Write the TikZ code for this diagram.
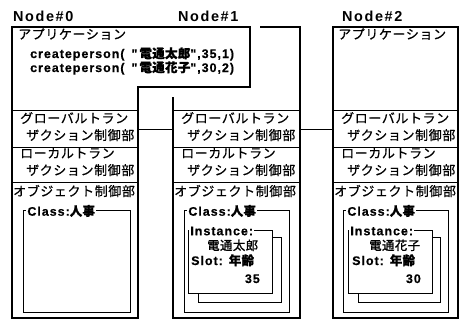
\documentclass[tikz,border=0pt]{standalone}
\usepackage{fontspec}
\setmainfont{Liberation Sans}
\newfontfamily\jpf{Noto Sans CJK JP}[LetterSpace=5,FakeBold=0.6]
\newfontfamily\jpb{Noto Sans CJK JP}[LetterSpace=3,FakeBold=1.2]
\newfontfamily\latf{Liberation Sans}[LetterSpace=8,FakeBold=0.4]
\newfontfamily\hdf{Liberation Sans}[LetterSpace=11]
\newcommand\jsz{\jpf\fontsize{13}{15}\selectfont}
\newcommand\jbz{\jpb\fontsize{12.5}{15}\selectfont}
\newcommand\lsz{\latf\bfseries\fontsize{12.5}{14}\selectfont}
\newcommand\hsz{\hdf\bfseries\fontsize{14.5}{16}\selectfont}
\tikzset{
  box/.style={draw, line width=1.3bp, inner sep=0pt, anchor=north west},
  txt/.style={anchor=base west, inner sep=0pt},
  tag/.style={anchor=west, fill=white, inner sep=1.2bp},
  ln/.style={line width=1.3bp},
}
\begin{document}
\begin{tikzpicture}[x=1bp,y=-1bp]
\useasboundingbox (0,0) rectangle (459,320);
% ---------- Node#0 ----------
\node[txt] (h0) at (13,21) {\hsz Node\#0};
\draw[ln] (138,87) -- (250,87) -- (250,27) -- (12,27) -- (12,318) -- (138,318) -- cycle;
\node[txt] (a0) at (18,39) {\jsz アプリケーション};
\node[txt] (c1) at (30,58) {\lsz createperson(\hspace{7bp}"\hspace{2bp}{\jbz 電通太郎}",35,1)};
\node[txt] (c2) at (30,72) {\lsz createperson(\hspace{7bp}"\hspace{2bp}{\jbz 電通花子}",30,2)};
\node[box, minimum width=126bp, minimum height=37bp] (g0) at (12,110) {};
\node[box, minimum width=126bp, minimum height=35bp] (l0) at (12,147) {};
\node[txt] (g0a) at (20,123) {\jsz グローバルトラン};
\node[txt] (g0b) at (26,140) {\jsz ザクション制御部};
\node[txt] (l0a) at (20,158) {\jsz ローカルトラン};
\node[txt] (l0b) at (26,175) {\jsz ザクション制御部};
\node[txt] (o0) at (13,196) {\jsz オブジェクト制御部};
\node[box, minimum width=107bp, minimum height=102bp] (k0) at (23,210) {};
\node[tag] (k0t) at (26,211) {\lsz Class:{\jbz 人事}};
% ---------- Node#1 ----------
\node[txt] (h1) at (178,21) {\hsz Node\#1};
\draw[ln] (260,27) -- (300,27) -- (300,318) -- (173,318) -- (173,97);
\node[box, minimum width=127bp, minimum height=37bp] (g1) at (173,110) {};
\node[box, minimum width=127bp, minimum height=35bp] (l1) at (173,147) {};
\node[txt] (g1a) at (181,123) {\jsz グローバルトラン};
\node[txt] (g1b) at (187,140) {\jsz ザクション制御部};
\node[txt] (l1a) at (181,158) {\jsz ローカルトラン};
\node[txt] (l1b) at (187,175) {\jsz ザクション制御部};
\node[txt] (o1) at (174,196) {\jsz オブジェクト制御部};
\node[box, minimum width=105bp, minimum height=102bp] (k1) at (184,210) {};
\node[tag] (k1t) at (187,211) {\lsz Class:{\jbz 人事}};
\node[box, minimum width=83bp, minimum height=65bp] (j1) at (198,237) {};
\node[box, fill=white, minimum width=84bp, minimum height=63bp] (i1) at (188,230) {};
\node[tag] (i1t) at (189,231) {\lsz Instance:};
\node[txt] (n1) at (207,250) {\jbz 電通太郎};
\node[txt] (s1) at (191,265) {\lsz Slot: {\jbz 年齢}};
\node[anchor=base east, inner sep=0pt] (v1) at (260,283) {\lsz 35};
% ---------- Node#2 ----------
\node[txt] (h2) at (342,21) {\hsz Node\#2};
\draw[ln] (333,27) rectangle (458,318);
\node[txt] (a2) at (338,39) {\jsz アプリケーション};
\node[box, minimum width=125bp, minimum height=37bp] (g2) at (333,110) {};
\node[box, minimum width=125bp, minimum height=35bp] (l2) at (333,147) {};
\node[txt] (g2a) at (341,123) {\jsz グローバルトラン};
\node[txt] (g2b) at (347,140) {\jsz ザクション制御部};
\node[txt] (l2a) at (341,158) {\jsz ローカルトラン};
\node[txt] (l2b) at (347,175) {\jsz ザクション制御部};
\node[txt] (o2) at (334,196) {\jsz オブジェクト制御部};
\node[box, minimum width=105bp, minimum height=102bp] (k2) at (343,210) {};
\node[tag] (k2t) at (346,211) {\lsz Class:{\jbz 人事}};
\node[box, minimum width=82bp, minimum height=65bp] (j2) at (358,237) {};
\node[box, fill=white, minimum width=84bp, minimum height=63bp] (i2) at (348,230) {};
\node[tag] (i2t) at (349,231) {\lsz Instance:};
\node[txt] (n2) at (369,250) {\jbz 電通花子};
\node[txt] (s2) at (352,265) {\lsz Slot: {\jbz 年齢}};
\node[anchor=base east, inner sep=0pt] (v2) at (421,283) {\lsz 30};
% ---------- connectors ----------
\draw[ln] (g0.east) -- (g1.west);
\draw[ln] (g1.east) -- (g2.west);
\end{tikzpicture}
\end{document}
